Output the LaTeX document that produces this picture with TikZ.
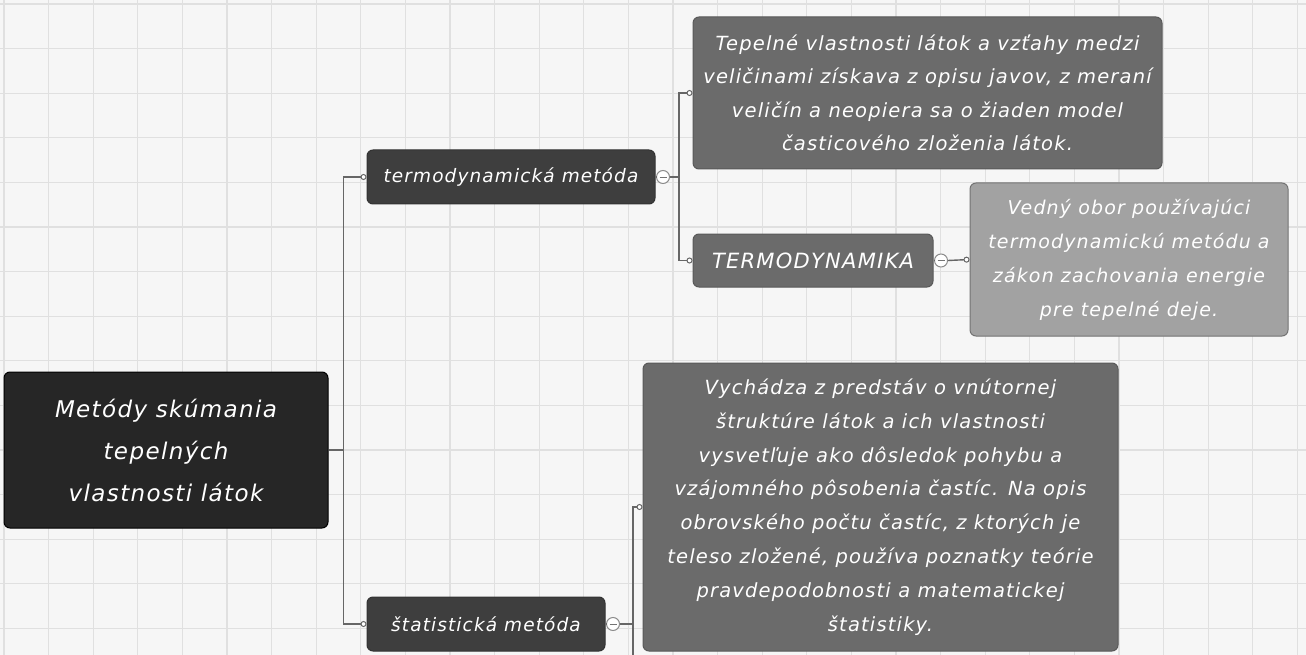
\documentclass[tikz,border=0pt]{standalone}
\usepackage{fontspec}
\setmainfont{DejaVu Sans}[LetterSpace=6]
\usetikzlibrary{arrows.meta}
\definecolor{bgc}{HTML}{F6F6F6}
\definecolor{gridc}{HTML}{E0E0E0}
\definecolor{connc}{HTML}{666666}
\definecolor{rootc}{HTML}{262626}
\definecolor{lvlone}{HTML}{3E3E3E}
\definecolor{lvltwo}{HTML}{6B6B6B}
\definecolor{lvlthree}{HTML}{A2A2A2}
\tikzset{
  gridline/.style={gridc, line width=1.3pt},
  boxbase/.style={rounded corners=6pt, draw=#1, line width=1pt, text=white, align=center, inner sep=0pt, font=\itshape},
  rootbox/.style={boxbase=black, fill=rootc, font=\itshape\fontsize{23}{42}\selectfont},
  onebox/.style={boxbase=black!80, fill=lvlone, font=\itshape\fontsize{18.5}{22}\selectfont},
  twobox/.style={boxbase=black!65, fill=lvltwo, font=\itshape\fontsize{19.5}{33.5}\selectfont},
  threebox/.style={boxbase=black!55, fill=lvlthree, font=\itshape\fontsize{19}{34}\selectfont},
  conn/.style={connc, line width=1.4pt},
  endtip/.style={conn, -{Circle[length=6pt, fill=white, line width=1pt]}},
  collapse/.style={circle, draw=black!45, fill=white, line width=1pt, inner sep=0pt, minimum size=13pt,
    path picture={\draw[black!55, line width=0.9pt] ([xshift=-3.5pt]path picture bounding box.center) -- ([xshift=3.5pt]path picture bounding box.center);}}
}
\begin{document}
\begin{tikzpicture}[x=1pt, y=-1pt]
\useasboundingbox (0,0) rectangle (1306,655);
\fill[bgc] (0,0) rectangle (1306,655);
\foreach \k in {0,...,29} {
  \draw[gridline] ({4+44.6*\k},0) -- ({4+44.6*\k},655);
}
\foreach \k in {0,...,14} {
  \draw[gridline] (0,{4+44.6*\k}) -- (1306,{4+44.6*\k});
}

% nodes
\node[rootbox, minimum width=324pt, minimum height=156pt] (root) at (166,450)
  {Metódy skúmania\\tepelných\\vlastnosti látok};
\node[onebox, minimum width=288pt, minimum height=54pt] (termo) at (511,177) {termodynamická metóda};
\node[onebox, minimum width=238pt, minimum height=54pt] (stat) at (486,624) {štatistická metóda};
\node[twobox, minimum width=469pt, minimum height=152pt] (desc) at (927.5,93)
  {Tepelné vlastnosti látok a vzťahy medzi\\veličinami získava z opisu javov, z meraní\\veličín a neopiera sa o žiaden model\\časticového zloženia látok.};
\node[twobox, minimum width=240pt, minimum height=53pt, font=\itshape\fontsize{21}{24}\selectfont] (tdyn) at (813,260.5) {TERMODYNAMIKA};
\node[threebox, minimum width=318pt, minimum height=153pt] (vedny) at (1129,259.5)
  {Vedný obor používajúci\\termodynamickú metódu a\\zákon zachovania energie\\pre tepelné deje.};
\node[twobox, minimum width=475pt, minimum height=288pt, font=\itshape\fontsize{19.5}{33.8}\selectfont] (big) at (880.5,507)
  {Vychádza z predstáv o vnútornej\\štruktúre látok a ich vlastnosti\\vysvetľuje ako dôsledok pohybu a\\vzájomného pôsobenia častíc. Na opis\\obrovského počtu častíc, z ktorých je\\teleso zložené, používa poznatky teórie\\pravdepodobnosti a matematickej\\štatistiky.};

% collapse markers
\node[collapse] (termoc) at (663,177) {};
\node[collapse] (tdync) at (941,260.5) {};
\node[collapse] (statc) at (613,624) {};

% connectors
\draw[conn] (root.east) -- ++(15,0) coordinate (trunk);
\draw[endtip] (trunk) |- (termo.west);
\draw[endtip] (trunk) |- (stat.west);
\draw[conn] (termo.east) -- (termoc.west);
\draw[conn] (termoc.east) -- ++(9,0) coordinate (tj);
\draw[endtip] (tj) |- (desc.west);
\draw[endtip] (tj) |- (tdyn.west);
\draw[conn] (tdyn.east) -- (tdync.west);
\draw[endtip] (tdync.east) -- (vedny.west);
\draw[conn] (stat.east) -- (statc.west);
\draw[conn] (statc.east) -- ++(13,0) coordinate (sj);
\draw[endtip] (sj) |- (big.west);
\draw[conn] (sj) -- (sj |- 0,655) coordinate (sjend);
\end{tikzpicture}
\end{document}
